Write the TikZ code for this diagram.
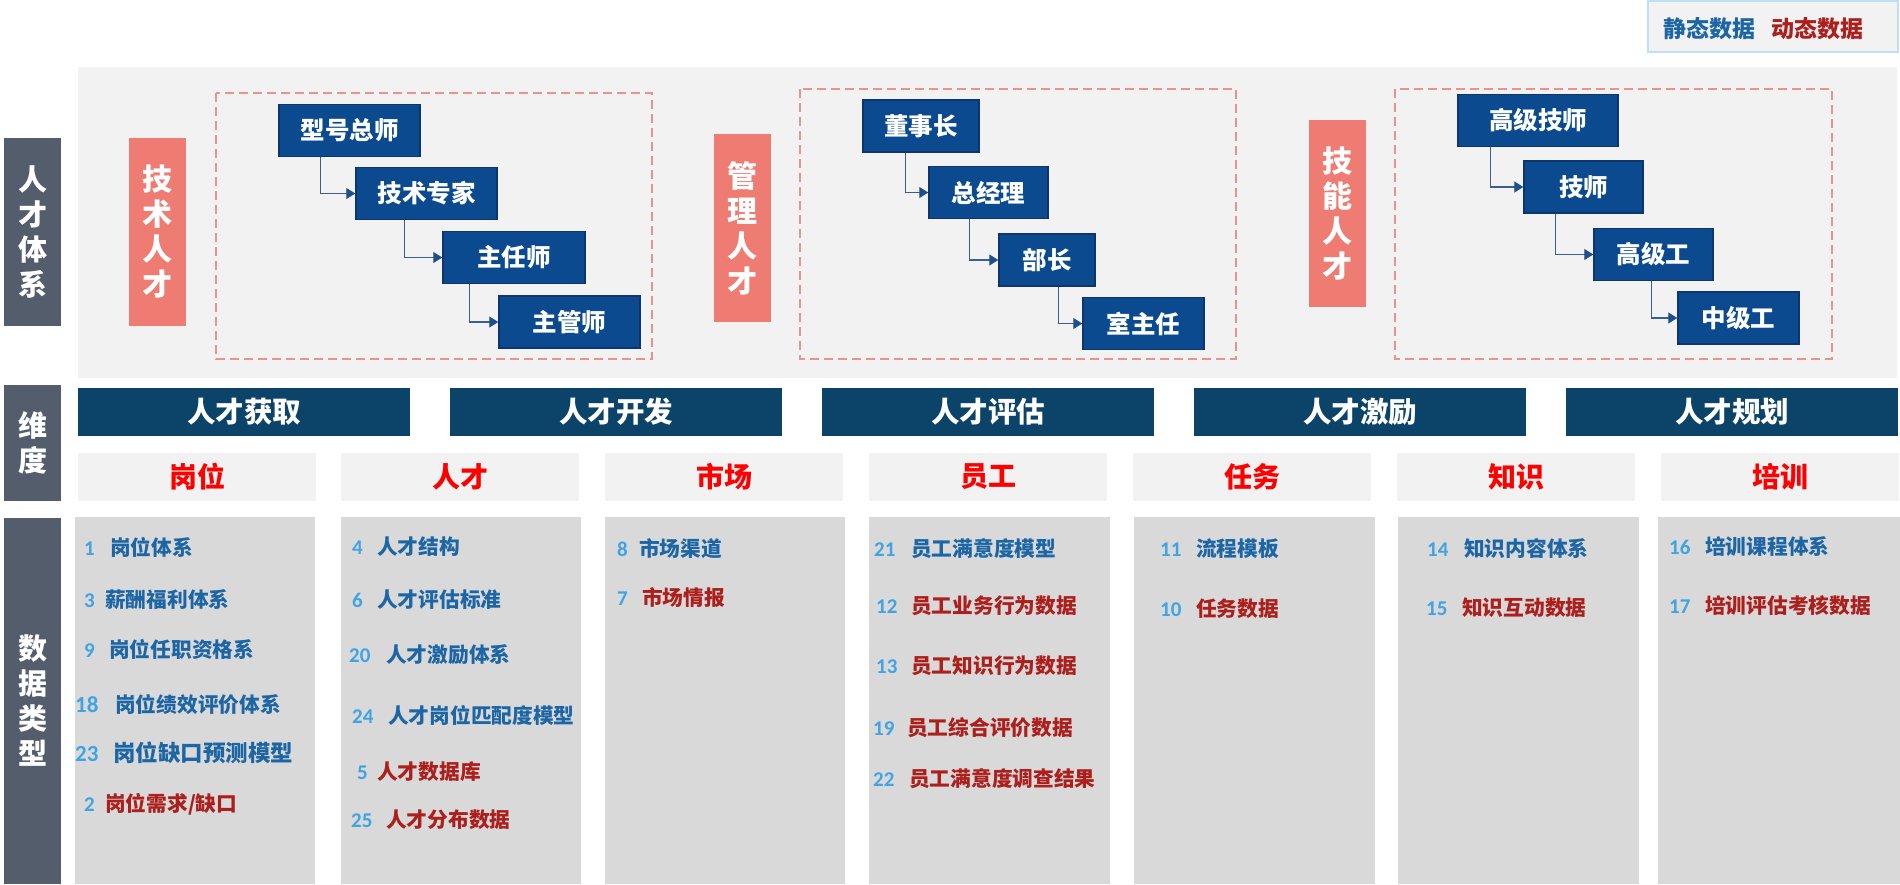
\documentclass[tikz,border=0pt]{standalone}
\usepackage{fontspec}
\newfontfamily\cjk{Noto Sans CJK SC}
\newfontfamily\numfont{Carlito}
\usetikzlibrary{arrows.meta}
\definecolor{navy}{HTML}{0B4A8F}
\definecolor{navyedge}{HTML}{0D3570}
\definecolor{bandblue}{HTML}{0B4468}
\definecolor{slate}{HTML}{535D6B}
\definecolor{salmon}{HTML}{EE7C72}
\definecolor{dashc}{HTML}{E8938D}
\definecolor{lightbg}{HTML}{F2F2F2}
\definecolor{colbg}{HTML}{D9D9D9}
\definecolor{txtblue}{HTML}{1D66A6}
\definecolor{txtred}{HTML}{AC1F1C}
\definecolor{numblue}{HTML}{40A3E4}
\definecolor{hdrred}{HTML}{FF0000}
\definecolor{legborder}{HTML}{BDE0F5}
\definecolor{connc}{HTML}{3A5F95}
\definecolor{tipc}{HTML}{1F4E8C}
\tikzset{
  rolebox/.style={draw=navyedge, line width=1.5pt, fill=navy, text=white,
    font=\cjk\bfseries\fontsize{24.5}{28}\selectfont, inner sep=0pt, minimum height=52pt},
  conn/.style={draw=connc, line width=1.2pt, -{Triangle[length=9pt,width=11pt,color=tipc]}},
  salmonlabel/.style={fill=salmon, text=white, align=center, inner sep=0pt,
    font=\cjk\bfseries\fontsize{30}{35}\selectfont, minimum width=57pt},
  sidelabel/.style={fill=slate, text=white, align=center, inner sep=0pt,
    font=\cjk\bfseries\fontsize{29}{35}\selectfont, minimum width=57pt},
  dimband/.style={fill=bandblue, text=white, inner sep=0pt, minimum width=332pt, minimum height=48pt,
    font=\cjk\bfseries\fontsize{28.5}{32}\selectfont},
  header/.style={fill=lightbg, text=hdrred, inner sep=0pt, minimum width=238pt, minimum height=48pt,
    font=\cjk\bfseries\fontsize{28}{32}\selectfont},
  dashbox/.style={draw=dashc, line width=1.5pt, dash pattern=on 9pt off 5pt},
  numtxt/.style={text=numblue, inner sep=0pt, anchor=base west, font=\numfont\bfseries\fontsize{21}{24}\selectfont},
  bluetxt/.style={text=txtblue, inner sep=0pt, anchor=base west, font=\cjk\bfseries\fontsize{20.7}{24}\selectfont},
  redtxt/.style={text=txtred, inner sep=0pt, anchor=base west, font=\cjk\bfseries\fontsize{20.7}{24}\selectfont},
  legtxt/.style={inner sep=0pt, font=\cjk\bfseries\fontsize{23}{26}\selectfont}
}
% #1 extra num opts, #2 name, #3 num x, #4 text x, #5 center y, #6 number, #7 text, #8 text style
\newcommand\ditem[8][]{%
  \node[numtxt,#1] (#2n) at (#3,{#5+7.5}) {#6};
  \node[#8] (#2t) at (#4,{#5+7.5}) {#7};}
\begin{document}
\begin{tikzpicture}[x=1pt,y=-1pt]
\useasboundingbox (0,0) rectangle (1900,884);
\fill[white] (0,0) rectangle (1900,884);

% legend
\node[draw=legborder, line width=2pt, fill=lightbg, minimum width=250pt, minimum height=51pt, inner sep=0pt] (legend) at (1773,26) {};
\node[legtxt, text=txtblue] (legstatic) at (1709,29) {静态数据};
\node[legtxt, text=txtred] (legdyn) at (1817,29) {动态数据};

% top band
\fill[lightbg] (78,67) rectangle (1897,378);

% side labels
\node[sidelabel, minimum height=188pt] (rctx) at (32.5,232) {人\\才\\体\\系};
\node[sidelabel, minimum height=116pt] (wd) at (32.5,443) {维\\度};
\node[sidelabel, minimum height=366pt] (sjlx) at (32.5,701) {数\\据\\类\\型};

% salmon labels
\node[salmonlabel, minimum height=188pt] (jsrc) at (157,232) {技\\术\\人\\才};
\node[salmonlabel, minimum height=188pt] (glrc) at (742.5,228) {管\\理\\人\\才};
\node[salmonlabel, minimum height=187pt] (jnrc) at (1337.5,213.5) {技\\能\\人\\才};

% dashed boxes
\draw[dashbox] (216,93) rectangle (652,359);
\draw[dashbox] (800,89) rectangle (1236,359);
\draw[dashbox] (1395,89) rectangle (1832,359);

% role boxes
\node[rolebox, minimum width=141pt] (xh) at (349.5,130.5) {型号总师};
\node[rolebox, minimum width=141pt] (jz) at (426.5,193.5) {技术专家};
\node[rolebox, minimum width=142pt] (zr) at (514,257.5) {主任师};
\node[rolebox, minimum width=141pt] (zg) at (569.5,322) {主管师};

\node[rolebox, minimum width=116pt] (ds) at (921,126) {董事长};
\node[rolebox, minimum width=119pt] (zjl) at (988.5,192.5) {总经理};
\node[rolebox, minimum width=96pt] (bz) at (1047,260) {部长};
\node[rolebox, minimum width=121pt] (szr) at (1143.5,323.5) {室主任};

\node[rolebox, minimum width=160pt] (gjjs) at (1538,120.5) {高级技师};
\node[rolebox, minimum width=119pt] (jsh) at (1583.5,187) {技师};
\node[rolebox, minimum width=119pt] (gjg) at (1653.5,254.5) {高级工};
\node[rolebox, minimum width=121pt] (zjg) at (1738.5,318) {中级工};

% connectors
\draw[conn] ([xshift=42pt]xh.south west) |- (jz.west);
\draw[conn] ([xshift=49pt]jz.south west) |- (zr.west);
\draw[conn] ([xshift=27pt]zr.south west) |- (zg.west);
\draw[conn] ([xshift=43pt]ds.south west) |- (zjl.west);
\draw[conn] ([xshift=41pt]zjl.south west) |- (bz.west);
\draw[conn] ([xshift=60pt]bz.south west) |- (szr.west);
\draw[conn] ([xshift=33pt]gjjs.south west) |- (jsh.west);
\draw[conn] ([xshift=32pt]jsh.south west) |- (gjg.west);
\draw[conn] ([xshift=58pt]gjg.south west) |- (zjg.west);

% dimension bands
\node[dimband] (b1) at (244,412) {人才获取};
\node[dimband] (b2) at (616,412) {人才开发};
\node[dimband] (b3) at (988,412) {人才评估};
\node[dimband] (b4) at (1360,412) {人才激励};
\node[dimband] (b5) at (1732,412) {人才规划};

% headers
\node[header] (h1) at (197,477) {岗位};
\node[header] (h2) at (460,477) {人才};
\node[header] (h3) at (724,477) {市场};
\node[header] (h4) at (988,477) {员工};
\node[header] (h5) at (1252,477) {任务};
\node[header] (h6) at (1516,477) {知识};
\node[header] (h7) at (1780,477) {培训};

% columns
\fill[colbg] (75,517) rectangle (315,884);
\fill[colbg] (341,517) rectangle (581,884);
\fill[colbg] (605,517) rectangle (845,884);
\fill[colbg] (869,517) rectangle (1110,884);
\fill[colbg] (1134,517) rectangle (1375,884);
\fill[colbg] (1398,517) rectangle (1639,884);
\fill[colbg] (1658,517) rectangle (1900,884);

% column 1
\ditem{a1}{84}{110}{548}{1}{岗位体系}{bluetxt}
\ditem{a3}{84}{105}{600}{3}{薪酬福利体系}{bluetxt}
\ditem{a9}{84}{109}{650}{9}{岗位任职资格系}{bluetxt}
\ditem[font=\numfont\bfseries\fontsize{23}{26}\selectfont]{a18}{75}{115}{705}{18}{岗位绩效评价体系}{bluetxt}
\ditem[font=\numfont\bfseries\fontsize{23}{26}\selectfont]{a23}{75}{113}{754}{23}{岗位缺口预测模型}{bluetxt,font=\cjk\bfseries\fontsize{22.5}{26}\selectfont}
\ditem{a2}{84}{105}{804}{2}{岗位需求/缺口}{redtxt}

% column 2
\ditem{b4i}{352}{377}{547}{4}{人才结构}{bluetxt}
\ditem{b6i}{352}{377}{600}{6}{人才评估标准}{bluetxt}
\ditem{b20}{349}{386}{655}{20}{人才激励体系}{bluetxt}
\ditem{b24}{352}{388}{716}{24}{人才岗位匹配度模型}{bluetxt}
\ditem{b5i}{357}{377}{772}{5}{人才数据库}{redtxt}
\ditem{b25}{351}{386}{820}{25}{人才分布数据}{redtxt}

% column 3
\ditem{c8}{617}{639}{549}{8}{市场渠道}{bluetxt}
\ditem{c7}{617}{642}{598}{7}{市场情报}{redtxt}

% column 4
\ditem{d21}{874}{911}{549}{21}{员工满意度模型}{bluetxt}
\ditem{d12}{876}{911}{606}{12}{员工业务行为数据}{redtxt}
\ditem{d13}{876}{911}{666}{13}{员工知识行为数据}{redtxt}
\ditem{d19}{873}{907}{728}{19}{员工综合评价数据}{redtxt}
\ditem{d22}{873}{909}{779}{22}{员工满意度调查结果}{redtxt}

% column 5
\ditem{e11}{1160}{1196}{549}{11}{流程模板}{bluetxt}
\ditem{e10}{1160}{1196}{609}{10}{任务数据}{redtxt}

% column 6
\ditem{f14}{1427}{1464}{549}{14}{知识内容体系}{bluetxt}
\ditem{f15}{1426}{1462}{608}{15}{知识互动数据}{redtxt}

% column 7
\ditem{g16}{1669}{1705}{547}{16}{培训课程体系}{bluetxt}
\ditem{g17}{1669}{1705}{606}{17}{培训评估考核数据}{redtxt}
\end{tikzpicture}
\end{document}
